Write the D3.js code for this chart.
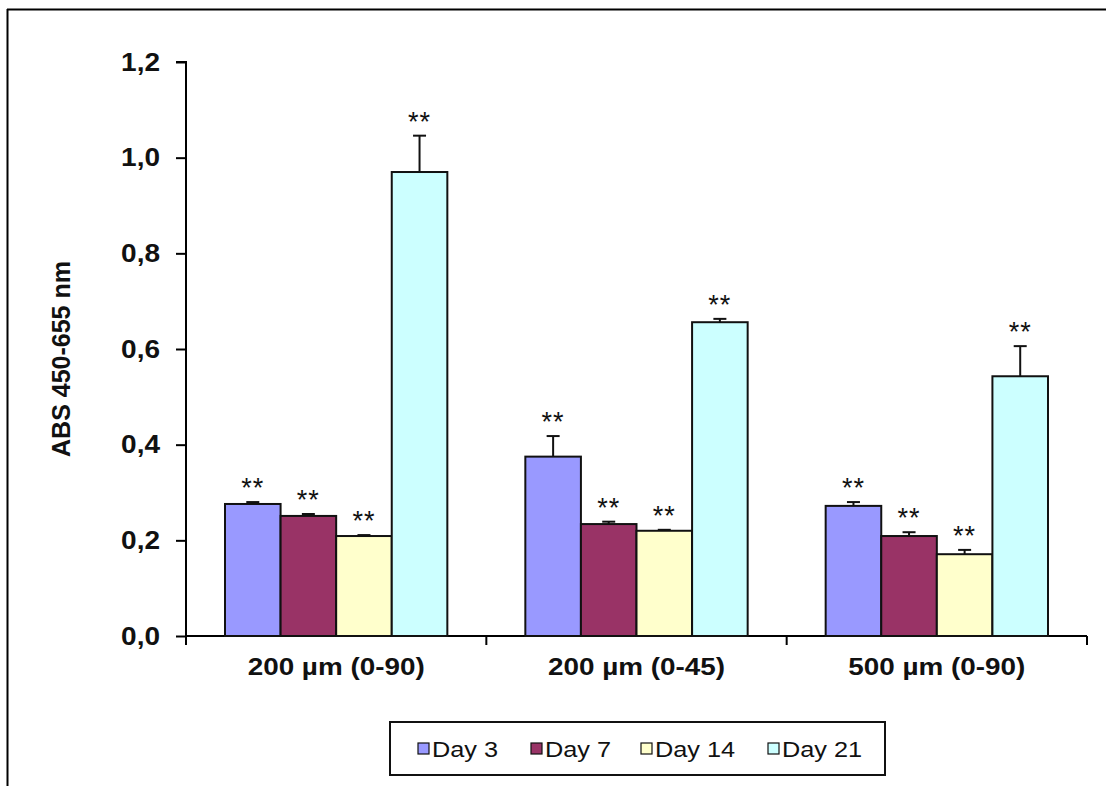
<!DOCTYPE html>
<html>
<head>
<meta charset="utf-8">
<script src="https://cdn.jsdelivr.net/npm/d3@7"></script>
<style>
  html, body { margin: 0; padding: 0; background: #fff; }
  svg { display: block; }
  text { font-family: "Liberation Sans", Arial, sans-serif; }
</style>
</head>
<body>
<svg id="chart" width="1106" height="786"></svg>
<script>
// ---- data ----
const categories = ["200 µm (0-90)", "200 µm (0-45)", "500 µm (0-90)"];
const seriesNames = ["Day 3", "Day 7", "Day 14", "Day 21"];
const day3  = [0.276, 0.375, 0.272];
const day7  = [0.251, 0.234, 0.209];
const day14 = [0.209, 0.220, 0.171];
const day21 = [0.970, 0.656, 0.543];
const err3  = [0.004, 0.043, 0.008];
const err7  = [0.004, 0.005, 0.008];
const err14 = [0.002, 0.002, 0.009];
const err21 = [0.076, 0.007, 0.063];
const significance = ["**", "**", "**", "**"];
const yTicks = [0, 0.2, 0.4, 0.6, 0.8, 1.0, 1.2];
const yLabel = "ABS 450-655 nm";

const seriesValues = [day3, day7, day14, day21];
const seriesErrors = [err3, err7, err14, err21];
const colors = ["#9999FF", "#993366", "#FFFFCC", "#CCFFFF"];

// ---- layout ----
const svg = d3.select("#chart");
const axisX0 = 186, axisX1 = 1087, axisY0 = 636, axisY1 = 62;

// widen glyphs a little (the reference text is horizontally stretched)
function stretch(sel, k) {
  sel.each(function () {
    const len = this.getComputedTextLength();
    d3.select(this).attr("textLength", len * k).attr("lengthAdjust", "spacingAndGlyphs");
  });
}

// frame (partially cropped in the reference)
svg.append("line").attr("x1", 7).attr("x2", 1106).attr("y1", 9.5).attr("y2", 9.5)
  .attr("stroke", "#000").attr("stroke-width", 2);
svg.append("line").attr("x1", 7.5).attr("x2", 7.5).attr("y1", 9).attr("y2", 786)
  .attr("stroke", "#000").attr("stroke-width", 2);

const x0 = d3.scaleBand().domain(categories).range([axisX0, axisX1]).padding(0);
const x1 = d3.scaleBand().domain(seriesNames).range([39, x0.bandwidth() - 39]).padding(0);
const y = d3.scaleLinear().domain([0, 1.2]).range([axisY0, axisY1]);

const fmt = v => d3.format(".1f")(v).replace(".", ",");

// y axis
const yAxis = d3.axisLeft(y).tickValues(yTicks).tickFormat(fmt).tickSize(10).tickPadding(16);
const gy = svg.append("g").attr("transform", `translate(${axisX0},0)`).call(yAxis);
gy.select(".domain").attr("stroke", "#000").attr("stroke-width", 2).attr("d", `M-10,${axisY1}H0V${axisY0 + 0.5}`);
gy.selectAll(".tick line").attr("stroke", "#000").attr("stroke-width", 2);
gy.selectAll(".tick text").attr("font-size", 25).attr("font-weight", "bold").attr("fill", "#111");
stretch(gy.selectAll(".tick text"), 1.12);

// x axis
const xAxis = d3.axisBottom(x0).tickSize(0).tickPadding(19);
const gx = svg.append("g").attr("transform", `translate(0,${axisY0})`).call(xAxis);
gx.select(".domain").attr("stroke", "#000").attr("stroke-width", 2).attr("d", `M${axisX0},0H${axisX1}`);
gx.selectAll(".tick text").attr("font-size", 24).attr("font-weight", "bold").attr("fill", "#111")
  .attr("dy", "0.85em");
stretch(gx.selectAll(".tick text"), 1.16);
// category separator ticks
const sepPos = [axisX0].concat(categories.map(c => x0(c) + x0.bandwidth()));
gx.selectAll(".sep").data(sepPos).enter().append("line")
  .attr("x1", d => d).attr("x2", d => d).attr("y1", 0).attr("y2", 9)
  .attr("stroke", "#000").attr("stroke-width", 2);

// y label
svg.append("text")
  .attr("transform", `translate(70,${(axisY0 + axisY1) / 2 + 10}) rotate(-90)`)
  .attr("text-anchor", "middle")
  .attr("font-size", 25).attr("font-weight", "bold").attr("fill", "#111")
  .text(yLabel);

// bars
const groups = svg.append("g").selectAll("g").data(categories).enter().append("g")
  .attr("transform", d => `translate(${x0(d)},0)`);

groups.each(function (cat, ci) {
  const g = d3.select(this);
  seriesNames.forEach((s, si) => {
    const v = seriesValues[si][ci];
    const e = seriesErrors[si][ci];
    const bx = x1(s), bw = x1.bandwidth();
    g.append("rect")
      .attr("x", bx).attr("y", y(v)).attr("width", bw).attr("height", y(0) - y(v))
      .attr("fill", colors[si]).attr("stroke", "#111").attr("stroke-width", 2);
    const cx = bx + bw / 2;
    g.append("line").attr("x1", cx).attr("x2", cx).attr("y1", y(v)).attr("y2", y(v + e))
      .attr("stroke", "#111").attr("stroke-width", 2);
    g.append("line").attr("x1", cx - 6.5).attr("x2", cx + 6.5).attr("y1", y(v + e)).attr("y2", y(v + e))
      .attr("stroke", "#111").attr("stroke-width", 2);
    g.append("text").attr("x", cx).attr("y", y(v + e) - 5)
      .attr("text-anchor", "middle").attr("font-size", 27).attr("fill", "#111")
      .attr("letter-spacing", 1)
      .text(significance[si]);
  });
});

// legend
const lg = svg.append("g");
lg.append("rect").attr("x", 390).attr("y", 722).attr("width", 495).attr("height", 53)
  .attr("fill", "#fff").attr("stroke", "#111").attr("stroke-width", 2);
const legendX = [418, 531, 641, 768];
seriesNames.forEach((s, i) => {
  lg.append("rect").attr("x", legendX[i]).attr("y", 743).attr("width", 11).attr("height", 11)
    .attr("fill", colors[i]).attr("stroke", "#111").attr("stroke-width", 1.2);
  const t = lg.append("text").attr("x", legendX[i] + 14).attr("y", 757)
    .attr("font-size", 22).attr("fill", "#111").text(s);
  stretch(t, 1.15);
});
</script>
</body>
</html>
